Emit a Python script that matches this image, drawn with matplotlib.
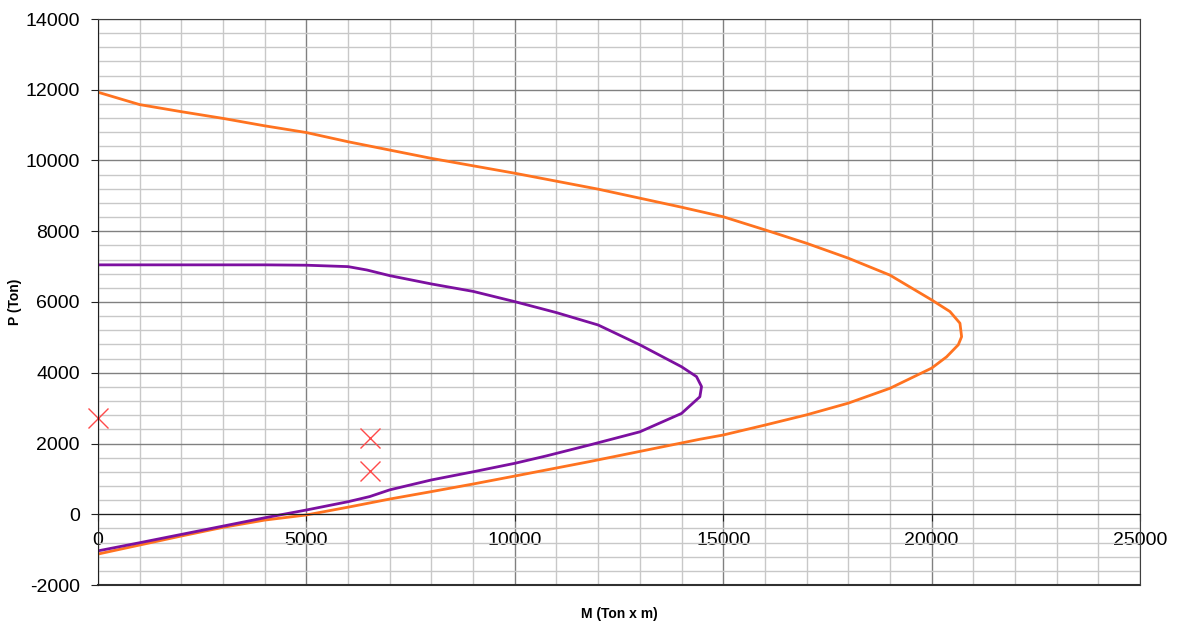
import numpy as np
import matplotlib.pyplot as plt
from matplotlib.ticker import MultipleLocator

plt.rcParams['font.family'] = ['Liberation Sans', 'DejaVu Sans']
plt.rcParams['axes.unicode_minus'] = False

# outer interaction curve (orange)
m_outer = [0, 1000, 2000, 3000, 4000, 5000, 6000, 8000, 10000, 12000, 14000, 15000,
           16000, 17000, 18000, 19000, 20000, 20440, 20680, 20720, 20640, 20360, 20000,
           19000, 18000, 17000, 16000, 15000, 14440, 11800, 10000, 9000, 8000, 7000,
           6000, 5000, 4000, 3000, 2000, 1000, 0]
p_outer = [11930, 11580, 11380, 11190, 10980, 10790, 10530, 10060, 9640, 9190, 8680, 8410,
           8040, 7660, 7240, 6760, 6060, 5730, 5400, 5020, 4790, 4450, 4130,
           3560, 3140, 2810, 2520, 2240, 2120, 1490, 1080, 855, 640, 430,
           200, -20, -165, -370, -615, -870, -1125]

# inner interaction curve (purple)
m_inner = [0, 2000, 4000, 5000, 6000, 6450, 7000, 8000, 9000, 10000, 11000, 12000, 13000,
           14000, 14360, 14480, 14440, 14000, 13000, 11800, 10760, 10000, 9000, 8000,
           7000, 6520, 6000, 5000, 4000, 3000, 2000, 1000, 0]
p_inner = [7050, 7050, 7050, 7040, 7000, 6905, 6745, 6510, 6300, 6010, 5700, 5350, 4790,
           4170, 3890, 3610, 3320, 2850, 2330, 1960, 1650, 1440, 1200, 970,
           690, 500, 355, 120, -100, -335, -570, -805, -1035]

# load cases
m_load = [0, 6525, 6525]
p_load = [2720, 2150, 1220]

fig = plt.figure(figsize=(11.78, 6.26), dpi=100)
ax = fig.add_axes([98/1178, 41/626, (1140-98)/1178, (585-19)/626])

ax.set_xlim(0, 25000)
ax.set_ylim(-2000, 14000)
ax.xaxis.set_major_locator(MultipleLocator(5000))
ax.xaxis.set_minor_locator(MultipleLocator(1000))
ax.yaxis.set_major_locator(MultipleLocator(2000))
ax.yaxis.set_minor_locator(MultipleLocator(400))
ax.grid(True, which='minor', color='#c8c8c8', lw=1)
ax.grid(True, which='major', color='#808080', lw=1)
ax.set_axisbelow(True)

ax.plot(m_outer, p_outer, color='#ff7320', lw=2)
ax.plot(m_inner, p_inner, color='#7c10a0', lw=2)
ax.plot(m_load, p_load, ls='none', marker='x', color='#ff4a4a', ms=14, mew=1, clip_on=False)

# x axis crosses at P = 0, frame kept all round
ax.spines['bottom'].set_position(('data', 0))
for s in ['bottom', 'left']:
    ax.spines[s].set_color('#202020')
for s in ['top', 'right']:
    ax.spines[s].set_color('#404040')
ax.axhline(-2000, color='#303030', lw=1.5, clip_on=False)

ax.tick_params(which='minor', length=0)
ax.tick_params(which='major', direction='out', length=5, color='#202020', labelsize=14)
ax.tick_params(axis='y', pad=8)
ax.tick_params(axis='x', pad=8)

ax.set_ylabel('P (Ton)', fontsize=10, fontweight='bold')
ax.yaxis.set_label_coords((22 - 98) / 1042, 0.5)
fig.text(619/1178, 1 - 614/626, 'M (Ton x m)', fontsize=10, fontweight='bold',
         ha='center', va='center')

fig.savefig('out.png', dpi=100)
